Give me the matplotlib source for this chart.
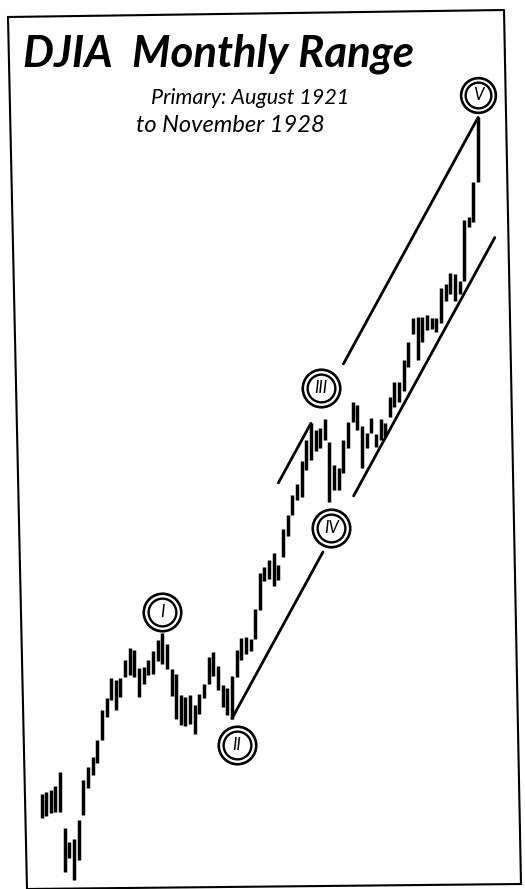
import matplotlib.pyplot as plt
import matplotlib.transforms as mtransforms
from matplotlib.lines import Line2D
import numpy as np

# monthly range of the DJIA, Jan 1921 .. Nov 1928 (month index 0 = Jan 1921)
highs = [76.0, 76.3, 76.6, 77.3, 79.5, 71.0, 69.0, 69.4, 72.1, 78.2, 80.4, 82.0,
         84.8, 90.1, 92.4, 96.1, 95.7, 96.1, 99.7, 102.1, 101.7, 98.1, 98.3, 99.7,
         101.5, 103.8, 105.4, 103.0, 98.0, 97.0, 93.0, 92.5, 93.0, 91.0, 93.2, 95.0,
         100.4, 101.3, 98.5, 94.8, 94.3, 96.5, 101.8, 104.2, 104.5, 104.0, 110.5, 119.0,
         120.5, 122.0, 123.8, 120.8, 129.9, 133.8, 139.2, 142.5, 149.2, 155.7, 161.0, 159.0,
         159.6, 162.3, 155.0, 147.9, 147.0, 155.7, 161.4, 168.1, 167.1, 160.0, 158.0, 162.7,
         157.5, 162.4, 161.0, 169.8, 175.0, 175.0, 183.1, 190.0, 199.3, 199.7, 199.7, 200.5,
         199.3, 199.3, 211.8, 213.5, 218.3, 217.9, 214.9, 243.1, 244.6, 262.5, 299.0]
lows = [72.4, 72.8, 73.2, 73.3, 73.3, 65.0, 66.8, 63.9, 66.5, 72.9, 77.0, 79.1,
        80.9, 84.8, 88.8, 91.9, 90.1, 92.5, 96.3, 96.7, 96.3, 92.5, 95.0, 96.7,
        97.0, 99.5, 99.0, 98.0, 92.8, 88.5, 87.5, 87.2, 87.6, 85.9, 89.5, 92.3,
        95.0, 96.5, 93.8, 90.6, 89.3, 88.6, 96.4, 99.8, 101.0, 101.5, 104.0, 110.3,
        117.0, 117.6, 115.8, 117.2, 122.8, 128.3, 133.8, 137.9, 138.7, 146.5, 149.5, 152.2,
        153.3, 155.7, 137.4, 140.8, 140.8, 145.5, 153.3, 161.4, 159.0, 147.0, 153.3, 158.0,
        153.5, 155.7, 156.5, 163.1, 166.3, 168.1, 172.0, 180.6, 193.0, 183.1, 189.8, 194.5,
        194.9, 193.8, 197.3, 206.3, 209.3, 206.3, 209.3, 214.9, 239.3, 242.1, 262.5]
months = np.arange(len(highs))

# Elliott wave labels: month, which end of the bar, label offset in pixels
wave_labels = ['I', 'II', 'III', 'IV', 'V']
wave_months = [26, 41, 61, 62, 94]
wave_ends = ['high', 'low', 'high', 'low', 'high']
label_offsets = [(0, 21), (5, -26), (-4, 31), (2, -26), (0, 22)]

# channel: upper line through two highs, parallel line through wave II low
upper_touch = [58, 94]
upper_segments = [(51, 58), (65, 94)]
lower_segments = [(41, 60.6), (67.2, 97.6)]

fig = plt.figure(figsize=(5.25, 8.89), dpi=100)
ax = fig.add_axes([0, 0, 1, 1])
ax.set_axis_off()
ax.set_yscale('log')
ax.set_xlim(-8.94, 104.1)
ax.set_ylim(62.75, 379.2)

ax.vlines(months, lows, highs, color='black', lw=2.5)

# channel lines (straight on the log scale)
m0, m1 = upper_touch
rate = np.log(highs[m1] / highs[m0]) / (m1 - m0)
for a, b in upper_segments:
    xs = np.array([a, b])
    ax.plot(xs, highs[m0] * np.exp(rate * (xs - m0)), color='black', lw=2.0,
            solid_capstyle='round')
ii = wave_months[1]
for a, b in lower_segments:
    xs = np.array([a, b])
    ax.plot(xs, lows[ii] * np.exp(rate * (xs - ii)), color='black', lw=2.0,
            solid_capstyle='round')

# double circled wave labels
for lab, m, end, (dx, dy) in zip(wave_labels, wave_months, wave_ends, label_offsets):
    val = highs[m] if end == 'high' else lows[m]
    tr = mtransforms.offset_copy(ax.transData, fig=fig, x=dx, y=dy, units='dots')
    size = 25 if lab == 'V' else 27
    ax.plot(m, val, 'o', ms=size, mfc='white', mec='black', mew=1.9, transform=tr, zorder=5)
    ax.plot(m, val, 'o', ms=size * 0.74, mfc='white', mec='black', mew=1.7, transform=tr, zorder=6)
    ax.text(m, val, lab, transform=tr, ha='center', va='center', fontsize=12,
            family='Lato', style='italic', zorder=7)

# titles
fig.text(23 / 525, 1 - 66 / 889, 'DJIA  Monthly Range', fontsize=31.5, family='Lato',
         style='italic', weight='bold', ha='left', va='baseline')
fig.text(250 / 525, 1 - 104 / 889, 'Primary: August 1921', fontsize=15.5, family='Lato',
         style='italic', ha='center', va='baseline')
fig.text(230 / 525, 1 - 132 / 889, 'to November 1928', fontsize=17, family='Lato',
         style='italic', ha='center', va='baseline')

# scanned frame, slightly skewed
px = [8, 504, 521, 27, 8]
py = [17, 10, 884, 889, 17]
fig.add_artist(Line2D([x / 525 for x in px], [1 - y / 889 for y in py],
                      color='black', lw=1.5, transform=fig.transFigure))

fig.savefig('out.png', dpi=100)
